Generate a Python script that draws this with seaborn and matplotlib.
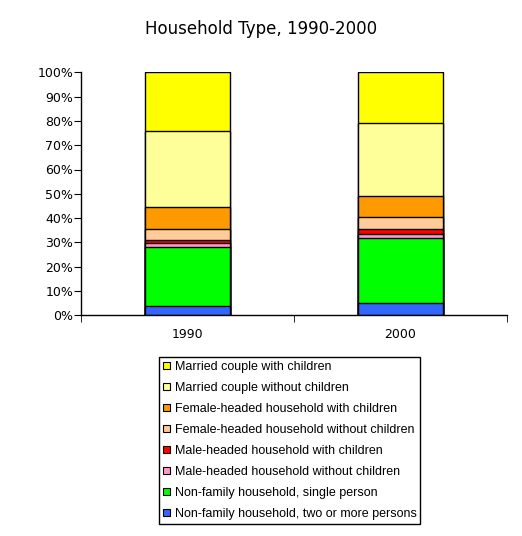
import pandas as pd
import seaborn as sns
import matplotlib.pyplot as plt
from matplotlib.patches import Patch
from matplotlib.ticker import FixedLocator

# Data (percent shares)
years = ['1990', '2000']
categories = [
    'Non-family household, two or more persons',
    'Non-family household, single person',
    'Male-headed household without children',
    'Male-headed household with children',
    'Female-headed household without children',
    'Female-headed household with children',
    'Married couple without children',
    'Married couple with children',
]
colors = ['#3366FF', '#00FF00', '#FF99CC', '#FF0000',
          '#FFCC99', '#FF9900', '#FFFF99', '#FFFF00']
share_1990 = [3.7, 24.3, 1.9, 1.0, 4.5, 9.0, 31.3, 24.3]
share_2000 = [4.9, 26.8, 1.8, 1.9, 4.9, 8.7, 30.0, 21.0]

df = pd.DataFrame({'category': categories, '1990': share_1990, '2000': share_2000})
df = df.melt(id_vars='category', var_name='year', value_name='share')
df['category'] = pd.Categorical(df['category'], categories, ordered=True)
df = df.sort_values(['year', 'category'])
df['top'] = df.groupby('year')['share'].cumsum()

plt.rcParams['font.family'] = ['DejaVu Sans']

fig = plt.figure(figsize=(5.22, 5.36), dpi=100)
ax = fig.add_axes([80.7 / 522, 1 - 315.3 / 536, 426.3 / 522, 243 / 536])

# draw from the top layer down so lower segments cover the upper ones
for cat, col in reversed(list(zip(categories, colors))):
    sub = df[df['category'] == cat]
    sns.barplot(data=sub, x='year', y='top', order=years, color=col,
                saturation=1, edgecolor='black', linewidth=1, width=0.4,
                errorbar=None, ax=ax)

ax.set_xlim(-0.5, 1.5)
ax.set_ylim(0, 100)
ax.set_yticks(range(0, 101, 10))
ax.set_yticklabels([f'{v}%' for v in range(0, 101, 10)], fontsize=9)
ax.set_xticks([0, 1])
ax.set_xticklabels(years, fontsize=9)
ax.tick_params(axis='x', which='major', length=0, pad=9)
ax.xaxis.set_minor_locator(FixedLocator([-0.5, 0.5, 1.5]))
ax.tick_params(axis='x', which='minor', length=5, direction='out')
ax.tick_params(axis='y', length=5, direction='out', pad=0.5)
ax.set_xlabel('')
ax.set_ylabel('')
for s in ['top', 'right']:
    ax.spines[s].set_visible(False)
for s in ['left', 'bottom']:
    ax.spines[s].set_linewidth(1)

fig.text(0.5, 1 - 29 / 536, 'Household Type, 1990-2000', ha='center', va='center', fontsize=12)

handles = [Patch(facecolor=c, edgecolor='black', linewidth=0.8, label=l)
           for l, c in reversed(list(zip(categories, colors)))]
leg = fig.legend(handles=handles, loc='upper left',
                 bbox_to_anchor=(159 / 522, 1 - 357 / 536), borderaxespad=0,
                 fancybox=False, edgecolor='black', framealpha=1,
                 prop={'family': 'Liberation Sans', 'size': 9},
                 handlelength=0.55, handleheight=0.55, handletextpad=0.4,
                 labelspacing=0.72, borderpad=0.3)
leg.get_frame().set_linewidth(1)

fig.savefig('out.png', dpi=100)
